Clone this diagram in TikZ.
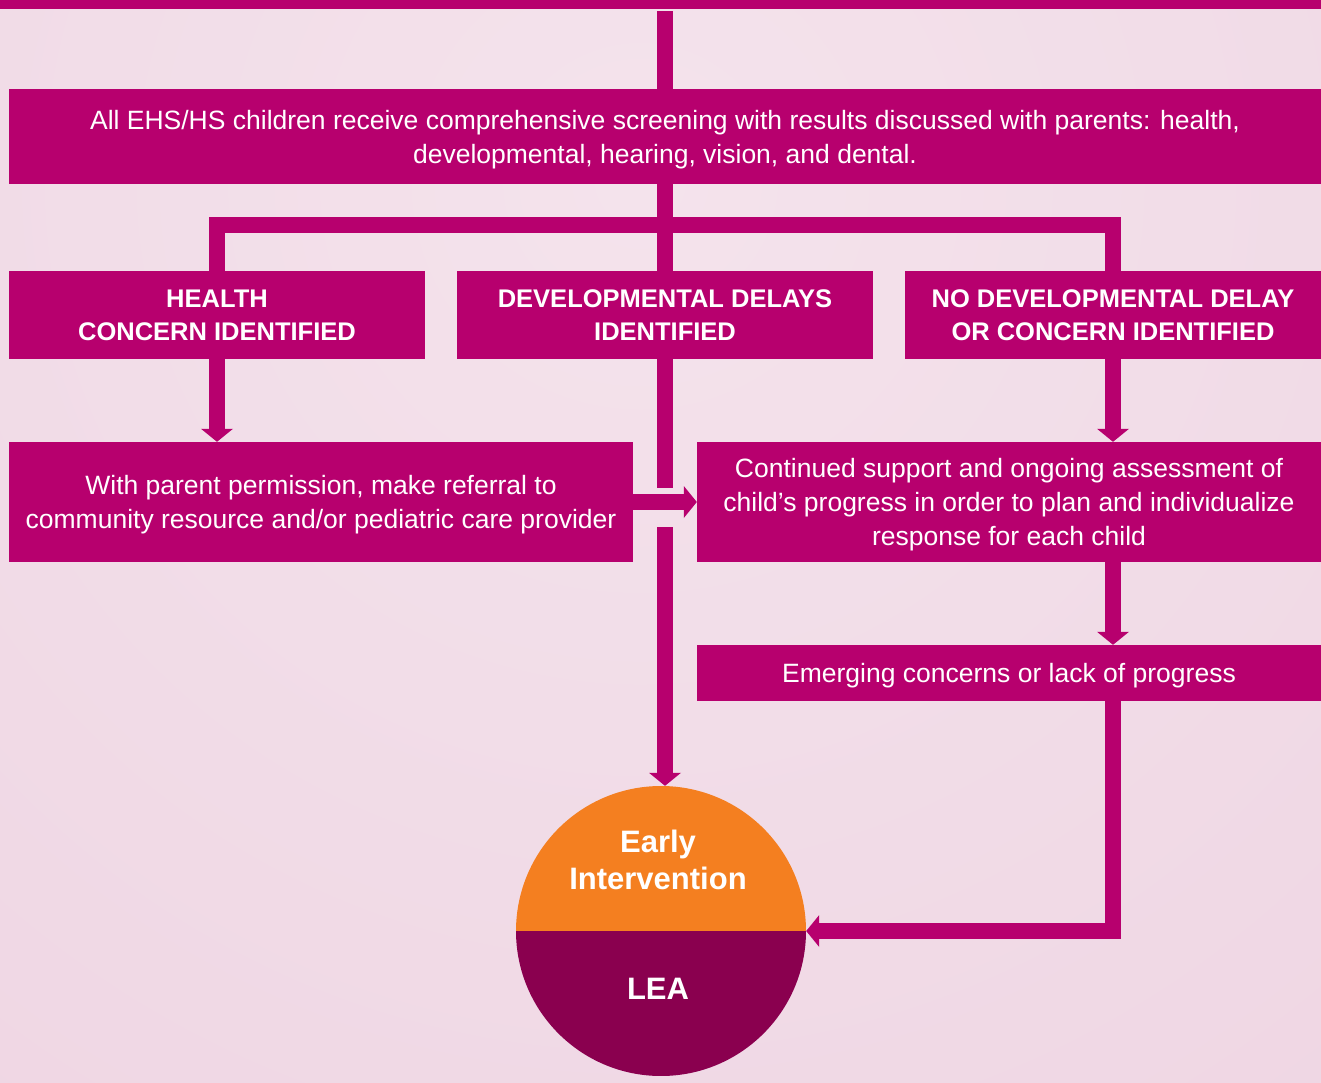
\documentclass[tikz,border=0pt]{standalone}
\usepackage{fontspec}
\setmainfont{Liberation Sans}
\usetikzlibrary{arrows.meta}
\definecolor{ehsmagenta}{HTML}{B7006E}
\definecolor{eiorange}{HTML}{F47F20}
\definecolor{leapurple}{HTML}{8A004F}
\definecolor{bglight}{HTML}{F4E3EC}
\definecolor{bgdark}{HTML}{EBCBDC}
\tikzstyle{flowbox} = [fill=ehsmagenta, text=white, inner sep=0, align=center,
    text depth=0pt, font=\fontsize{26.5}{34}\selectfont]
\tikzstyle{headbox} = [flowbox, minimum width=416pt, minimum height=88pt,
    font=\fontsize{25.5}{33}\selectfont\bfseries]
\tikzstyle{flowline} = [draw=ehsmagenta, line width=16pt]
\tikzstyle{flowarrow} = [flowline, -{Triangle[width=32pt, length=13pt, line width=0pt]}]
\tikzstyle{eilabel} = [text=white, align=center, font=\fontsize{31}{37}\selectfont\bfseries]

\begin{document}
\begin{tikzpicture}[x=1pt, y=-1pt]
\useasboundingbox (0,0) rectangle (1321,1083);
\fill[bgdark] (0,0) rectangle (1321,1083);
\shade[inner color=bglight, outer color=bgdark] (640,180) circle[radius=2200];

\node[flowbox, minimum width=1321pt, minimum height=9pt] (intake) at (660.5,4.5) {};
\node[flowbox, minimum width=1312pt, minimum height=95pt] (screening) at (665,136.5)
    {All EHS/HS children receive comprehensive screening with results discussed with parents: health,\\
     developmental, hearing, vision, and dental.};
\node[headbox] (health) at (217,315) {HEALTH\\CONCERN IDENTIFIED};
\node[headbox] (dev) at (665,315) {DEVELOPMENTAL DELAYS\\IDENTIFIED};
\node[headbox] (nodelay) at (1113,315) {NO DEVELOPMENTAL DELAY\\OR CONCERN IDENTIFIED};
\node[flowbox, minimum width=624pt, minimum height=120pt] (referral) at (321,502)
    {With parent permission, make referral to\\community resource and/or pediatric care provider};
\node[flowbox, minimum width=624pt, minimum height=120pt] (continued) at (1009,502)
    {Continued support and ongoing assessment of\\child’s progress in order to plan and individualize\\response for each child};
\node[flowbox, minimum width=624pt, minimum height=56pt] (emerging) at (1009,673)
    {Emerging concerns or lack of progress};
\node[circle, inner sep=0, minimum size=290pt,
    path picture={
        \fill[eiorange] (path picture bounding box.north west) rectangle (path picture bounding box.east);
        \fill[leapurple] (path picture bounding box.west) rectangle (path picture bounding box.south east);
    }] (ei) at (661,931) {};
\node[eilabel] (eitext) at (658,860) {Early\\Intervention};
\node[eilabel] (leatext) at (658,989) {LEA};

\coordinate (gaptop) at (665,488);
\coordinate (gapbot) at (665,527);

\draw[flowline] (screening.north) -- ++(0,-78);
\draw[flowline] (screening.south) -- (dev.north);
\draw[flowline] (health.north) -- ++(0,-46) -| (nodelay.north);
\draw[flowarrow] (health.south) -- (health.south |- referral.north);
\draw[flowline] (dev.south) -- (gaptop);
\draw[flowarrow] (gapbot) -- (gapbot |- ei.north);
\draw[flowarrow] (referral.east) -- (continued.west);
\draw[flowarrow] (nodelay.south) -- (nodelay.south |- continued.north);
\draw[flowarrow] (continued.south -| nodelay.south) -- (emerging.north -| nodelay.south);
\draw[flowarrow] (emerging.south -| nodelay.south) |- (ei.east);
\end{tikzpicture}
\end{document}
